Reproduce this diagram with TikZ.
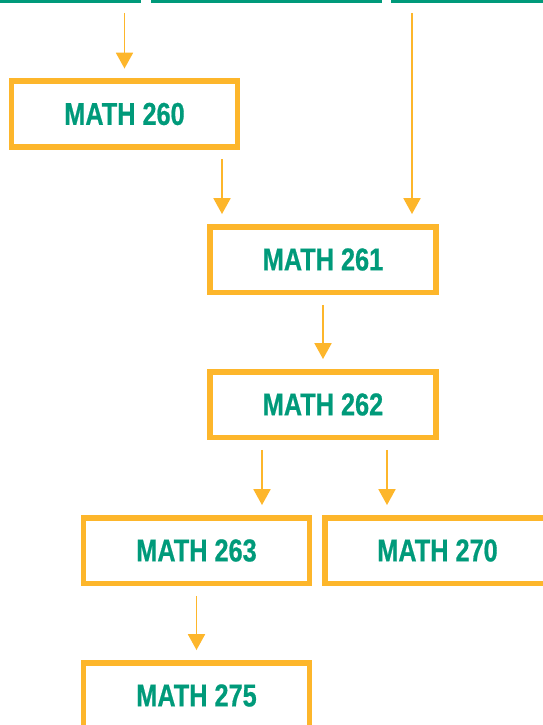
\documentclass[tikz,border=0pt]{standalone}
\usepackage{fontspec}
\newfontfamily\coursefont[FakeStretch=0.8,FakeBold=0.6]{Liberation Sans}
\usetikzlibrary{arrows.meta}
\definecolor{coursegold}{HTML}{FDB62B}
\definecolor{coursegreen}{HTML}{009A7A}

\begin{document}
\begin{tikzpicture}[
  x=0.03cm, y=-0.03cm,
  course/.style={draw=coursegold, line width=4.7pt, minimum width=6.765cm, minimum height=1.965cm,
                 inner sep=0pt, text=coursegreen, font=\coursefont\bfseries\fontsize{27}{28}\selectfont},
  bar/.style={fill=coursegreen, inner sep=0pt, outer sep=0pt, minimum height=0.6cm, anchor=south west},
  flow/.style={draw=coursegold, line width=1.4pt, -{Triangle[width=14.5pt,length=13.5pt]},
               shorten <=8.5pt, shorten >=8.5pt}
]
\useasboundingbox (0,0) rectangle (543,725);
% cut-off boxes above
\node[bar, minimum width=4.23cm] (pre1) at (0,3) {};
\node[bar, minimum width=6.93cm] (pre2) at (151,3) {};
\node[bar, minimum width=5.2cm] (pre3) at (391,3) {};
\node[course] (m260) at (124.5,114) {MATH 260};
\draw[flow] (pre1.south -| m260.north) -- (m260.north);
\node[course] (m261) at (323,259.5) {MATH 261};
\draw[flow] (m260.south -| 222,0) -- (m261.north -| 222,0);
\draw[flow] (pre3.south -| 412,0) -- (m261.north -| 412,0);
\node[course] (m262) at (323,404.5) {MATH 262};
\draw[flow] (m261.south) -- (m262.north);
\node[course] (m263) at (196.5,550.5) {MATH 263};
\draw[flow] (m262.south -| 262,0) -- (m263.north -| 262,0);
\node[course] (m270) at (437.5,550.5) {MATH 270};
\draw[flow] (m262.south -| 387,0) -- (m270.north -| 387,0);
\node[course] (m275) at (196.5,695.5) {MATH 275};
\draw[flow] (m263.south) -- (m275.north);
\end{tikzpicture}
\end{document}
